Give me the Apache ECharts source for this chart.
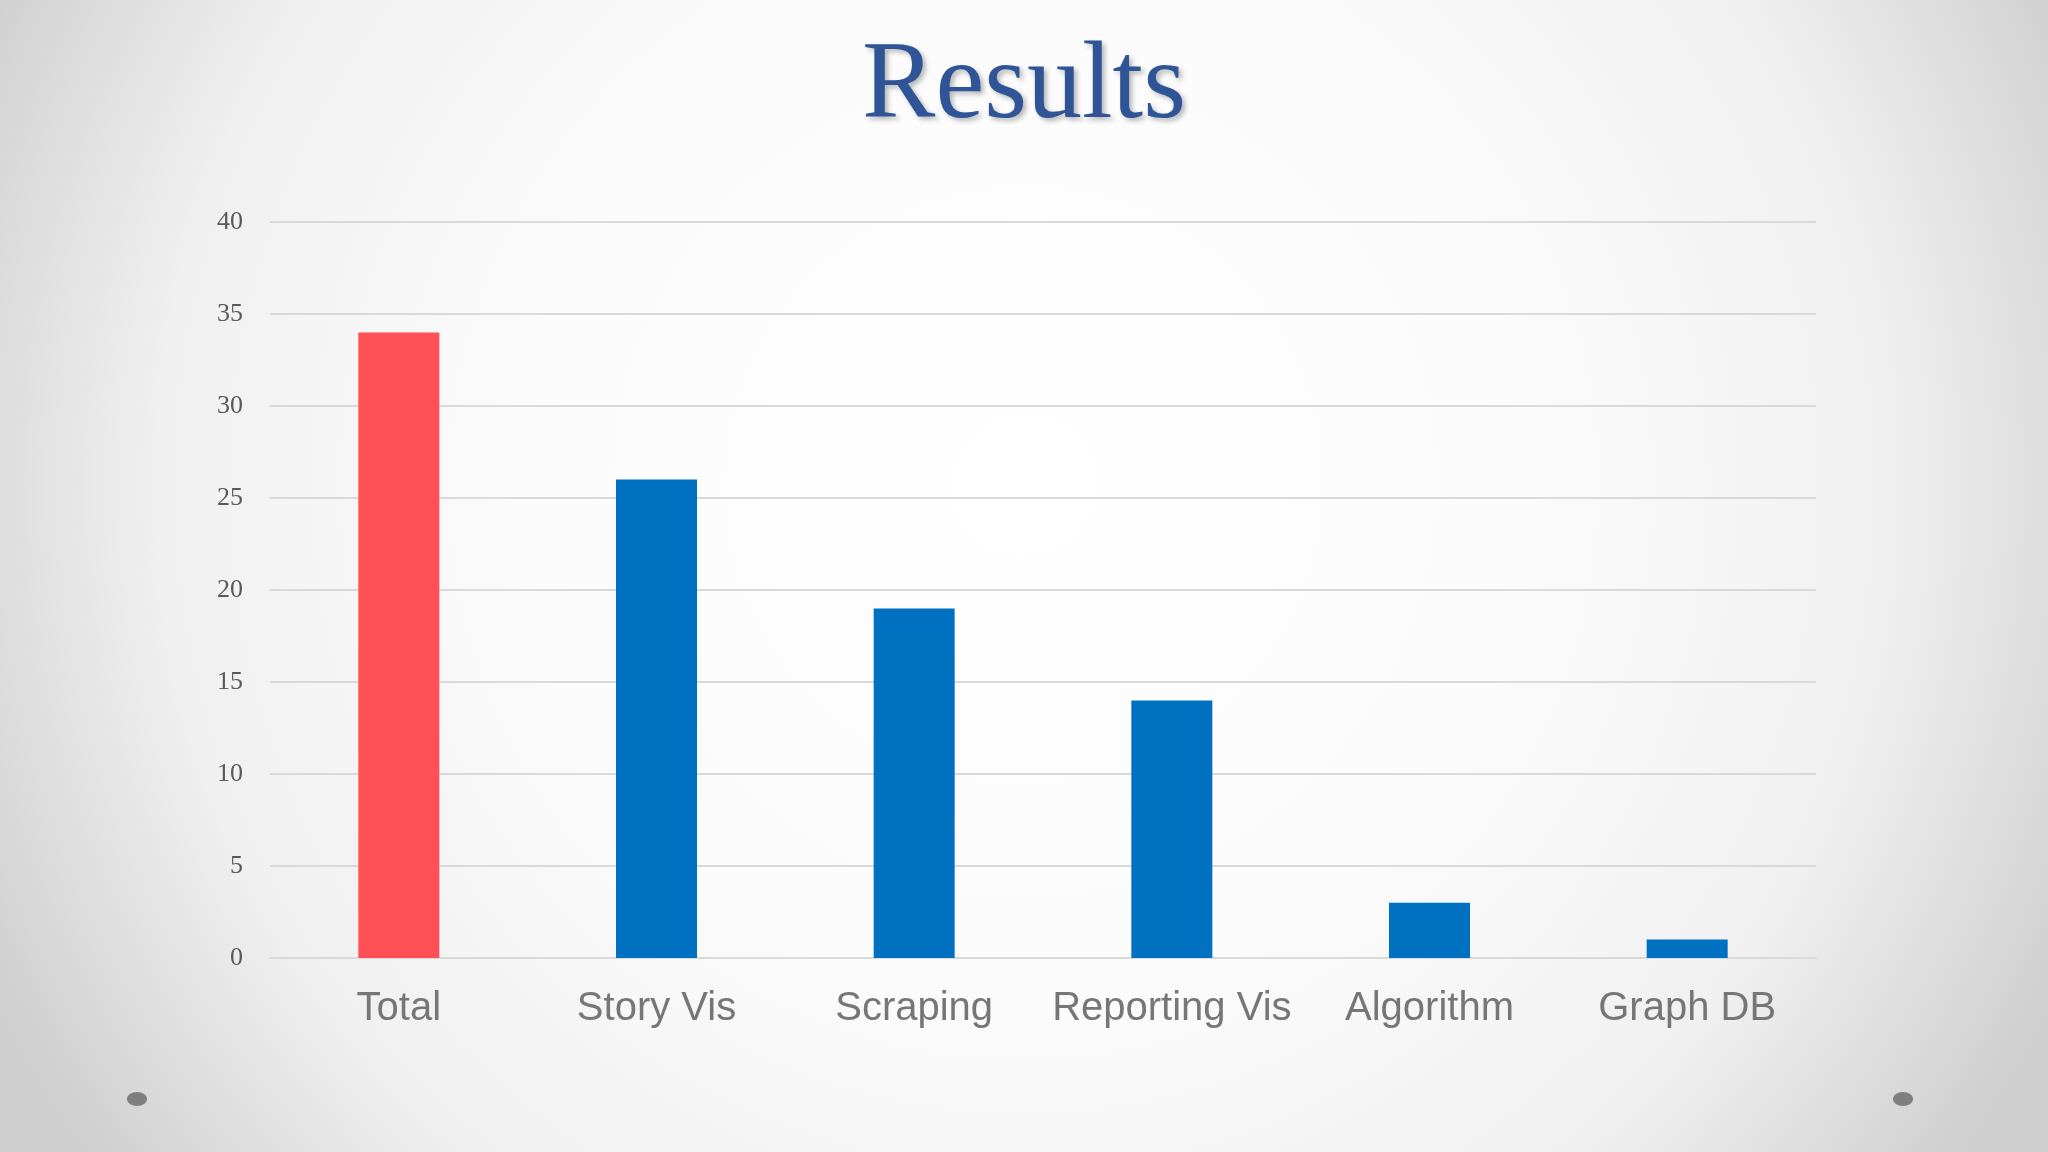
<!DOCTYPE html>
<html>
<head>
<meta charset="utf-8">
<script src="https://cdn.jsdelivr.net/npm/echarts@6/dist/echarts.min.js"></script>
<style>
  html, body { margin: 0; padding: 0; width: 100%; height: 100%; overflow: hidden; }
  #root { width: 2048px; height: 1152px; }
</style>
</head>
<body>
<div id="root"></div>
<script>
// chart data
const categories = ['Total', 'Story Vis', 'Scraping', 'Reporting Vis', 'Algorithm', 'Graph DB']
const counts = [34, 26, 19, 14, 3, 1]
const barColors = ['#FF5056', '#0070C0', '#0070C0', '#0070C0', '#0070C0', '#0070C0']
const yTicks = [0, 5, 10, 15, 20, 25, 30, 35, 40]

const chart = echarts.init(document.getElementById('root'))

const option = {
  animation: false,
  backgroundColor: {
    type: 'radial',
    x: 0.5,
    y: 0.42,
    r: 1.0,
    colorStops: [
      { offset: 0, color: '#ffffff' },
      { offset: 0.45, color: '#fbfbfb' },
      { offset: 0.75, color: '#f0f0f0' },
      { offset: 1, color: '#cfcfcf' }
    ]
  },
  title: {
    text: 'Results',
    left: 'center',
    top: 28,
    textStyle: {
      fontFamily: 'Liberation Serif',
      fontSize: 110,
      fontWeight: 'normal',
      color: '#2F5597',
      textShadowColor: 'rgba(0,0,0,0.28)',
      textShadowBlur: 5,
      textShadowOffsetX: 3,
      textShadowOffsetY: 3
    }
  },
  grid: { left: 270, right: 232, top: 222, bottom: 194, containLabel: false },
  xAxis: {
    type: 'category',
    data: categories,
    axisLine: { lineStyle: { color: '#d9d9d9', width: 2 } },
    axisTick: { show: false },
    axisLabel: {
      interval: 0,
      margin: 31,
      fontFamily: 'Liberation Sans',
      fontSize: 40,
      color: '#767676'
    }
  },
  yAxis: {
    type: 'value',
    min: yTicks[0],
    max: yTicks[yTicks.length - 1],
    interval: 5,
    axisLine: { show: false },
    axisTick: { show: false },
    splitLine: { lineStyle: { color: '#d9d9d9', width: 2 } },
    axisLabel: {
      margin: 27,
      fontFamily: 'Liberation Serif',
      fontSize: 26,
      color: '#595959'
    }
  },
  series: [
    {
      type: 'bar',
      barWidth: 81,
      data: counts.map((v, i) => ({ value: v, itemStyle: { color: barColors[i] } }))
    }
  ],
  graphic: [
    { type: 'ellipse', shape: { cx: 137, cy: 1099, rx: 10, ry: 7 }, style: { fill: '#7f7f7f' } },
    { type: 'ellipse', shape: { cx: 1903, cy: 1099, rx: 10, ry: 7 }, style: { fill: '#7f7f7f' } }
  ]
}

chart.setOption(option)
</script>
</body>
</html>
